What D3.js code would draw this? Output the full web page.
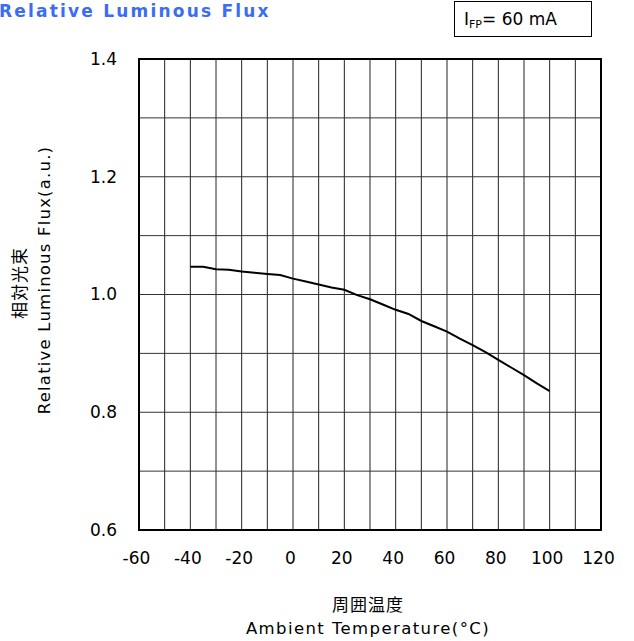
<!DOCTYPE html>
<html>
<head>
<meta charset="utf-8">
<script src="https://cdn.jsdelivr.net/npm/d3@7.9.0/dist/d3.min.js"></script>
<style>
  body { margin: 0; background: #fff; }
  svg text { font-family: "DejaVu Sans", Verdana, sans-serif; }
</style>
</head>
<body>
<svg id="chart" width="634" height="641"></svg>
<script>
// Temperature (°C) and relative luminous flux
const temps = [-40, -35, -30, -25, -20, -15, -10, -5, 0, 5, 10, 15, 20, 25, 30, 35, 40, 45, 50, 55, 60, 65, 70, 75, 80, 85, 90, 95, 100];
const flux = [1.047, 1.047, 1.043, 1.042, 1.039, 1.037, 1.035, 1.033, 1.027, 1.022, 1.017, 1.012, 1.008, 0.999, 0.992, 0.983, 0.974, 0.967, 0.955, 0.946, 0.937, 0.925, 0.914, 0.902, 0.889, 0.876, 0.863, 0.849, 0.836];

const xTicks = [-60, -40, -20, 0, 20, 40, 60, 80, 100, 120];
const yTicks = [0.6, 0.8, 1.0, 1.2, 1.4];

const margin = { left: 139, right: 33, top: 59, bottom: 111 };
const width = 634, height = 641;

const svg = d3.select('#chart');

let x = d3.scaleLinear().domain([-60, 120]).range([margin.left, width - margin.right]);
let y = d3.scaleLinear().domain([0.6, 1.4]).range([height - margin.bottom, margin.top]);

// Grid lines
const grid = svg.append('g');
grid.selectAll('line.v')
  .data(d3.range(-50, 120, 10))
  .enter()
  .append('line')
  .attr('x1', d => x(d)).attr('x2', d => x(d))
  .attr('y1', y(0.6)).attr('y2', y(1.4))
  .attr('stroke', '#222')
  .attr('stroke-width', 1);
grid.selectAll('line.h')
  .data(d3.range(0.7, 1.35, 0.1))
  .enter()
  .append('line')
  .attr('x1', x(-60)).attr('x2', x(120))
  .attr('y1', d => y(d)).attr('y2', d => y(d))
  .attr('stroke', '#333')
  .attr('stroke-width', 1);

// Frame
svg.append('rect')
  .attr('x', x(-60)).attr('y', y(1.4))
  .attr('width', x(120) - x(-60))
  .attr('height', y(0.6) - y(1.4))
  .attr('fill', 'none')
  .attr('stroke', '#000')
  .attr('stroke-width', 2);

// Tick labels (no tick marks)
let xAxis = d3.axisBottom(x).tickValues(xTicks).tickSize(0).tickPadding(22).tickFormat(d => String(d));
svg.append('g')
  .attr('transform', `translate(-3,${y(0.6)})`)
  .call(xAxis)
  .call(g => g.select('.domain').remove())
  .selectAll('text')
  .attr('font-size', 17)
  .attr('fill', '#000')
  .style('font-family', '"DejaVu Sans", Verdana, sans-serif');

let yAxis = d3.axisLeft(y).tickValues(yTicks).tickSize(0).tickPadding(22).tickFormat(d3.format('.1f'));
svg.append('g')
  .attr('transform', `translate(${x(-60)},0)`)
  .call(yAxis)
  .call(g => g.select('.domain').remove())
  .selectAll('text')
  .attr('font-size', 17)
  .attr('fill', '#000')
  .style('font-family', '"DejaVu Sans", Verdana, sans-serif');

// Curve
const points = temps.map((t, i) => [t, flux[i]]);
svg.append('path')
  .datum(points)
  .attr('d', d3.line().x(d => x(d[0])).y(d => y(d[1])))
  .attr('fill', 'none')
  .attr('stroke', '#000')
  .attr('stroke-width', 2);

// Title
svg.append('text')
  .attr('x', -1).attr('y', 17)
  .attr('font-size', 17)
  .attr('font-weight', 'bold')
  .attr('letter-spacing', 2.2)
  .attr('fill', '#3a6cf4')
  .text('Relative Luminous Flux');

// Condition box
svg.append('rect')
  .attr('x', 454.5).attr('y', 1.5)
  .attr('width', 137).attr('height', 35)
  .attr('fill', '#fff')
  .attr('stroke', '#000')
  .attr('stroke-width', 1);
const cond = svg.append('text')
  .attr('x', 464).attr('y', 25)
  .attr('font-size', 17)
  .attr('fill', '#000');
cond.append('tspan').text('I');
cond.append('tspan').attr('font-size', 11).attr('dy', 3).text('FP');
cond.append('tspan').attr('dy', -3).text('= 60 mA');

// X axis title
const xt = x(30) - 2;
svg.append('text')
  .attr('x', xt).attr('y', 611)
  .attr('text-anchor', 'middle')
  .attr('font-size', 17)
  .attr('letter-spacing', 1)
  .style('font-family', '"Noto Sans CJK JP", sans-serif')
  .text('周囲温度');
svg.append('text')
  .attr('x', xt).attr('y', 634)
  .attr('text-anchor', 'middle')
  .attr('font-size', 16.5)
  .attr('letter-spacing', 1.4)
  .text('Ambient Temperature(°C)');

// Y axis title
svg.append('text')
  .attr('transform', 'translate(26,283) rotate(-90)')
  .attr('text-anchor', 'middle')
  .attr('font-size', 17)
  .attr('letter-spacing', 1)
  .style('font-family', '"Noto Sans CJK JP", sans-serif')
  .text('相対光束');
svg.append('text')
  .attr('transform', 'translate(50,280) rotate(-90)')
  .attr('text-anchor', 'middle')
  .attr('font-size', 16.5)
  .attr('letter-spacing', 1.2)
  .text('Relative Luminous Flux(a.u.)');
</script>
</body>
</html>
